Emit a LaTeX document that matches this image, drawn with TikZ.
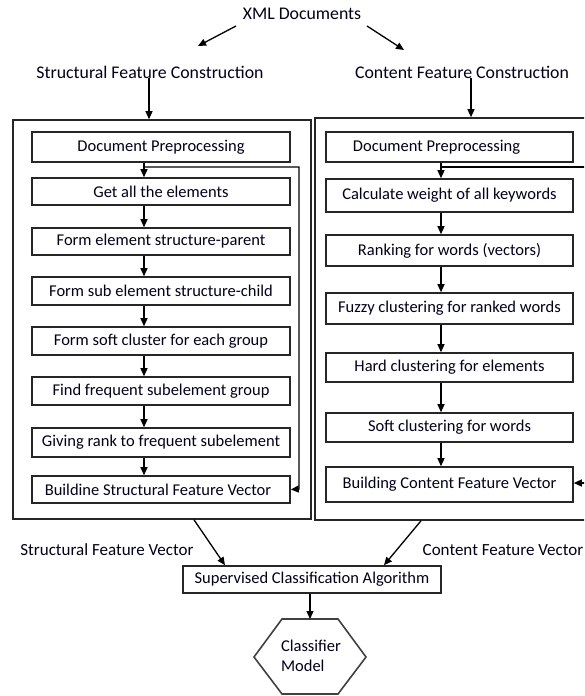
\documentclass[tikz,border=0pt]{standalone}
\usepackage{fontspec}
\setmainfont{Carlito}
\usetikzlibrary{arrows.meta}
\begin{document}
\begin{tikzpicture}[x=1pt,y=-1pt,
  txt/.style={font=\fontsize{16.5}{19}\selectfont, text=black!90!blue},
  bigtxt/.style={font=\fontsize{17.8}{20}\selectfont, text=black!90!blue},
  midtxt/.style={font=\fontsize{17}{20}\selectfont, text=black!90!blue},
  lbox/.style={draw=black!85, line width=1.6pt, inner sep=0pt, minimum width=258pt, txt},
  rbox/.style={draw=black!85, line width=1.6pt, inner sep=0pt, minimum width=247pt, txt},
  outer/.style={draw=black!85, line width=1.6pt, inner sep=0pt},
  lbl/.style={inner sep=0pt},
  arr/.style={-{Triangle[length=8pt,width=7pt]}, line width=1.3pt}]
\useasboundingbox (0,0) rectangle (584,696);
\clip (0,0) rectangle (584,696);

% top labels
\node[lbl, bigtxt] (xml) at (302,14) {XML Documents};
\node[lbl, bigtxt] (sfc) at (150,72) {Structural Feature Construction};
\node[lbl, bigtxt] (cfc) at (462,72) {Content Feature Construction};
\coordinate (xa) at (236,26); \coordinate (xb) at (198,46);
\coordinate (xc) at (367,26); \coordinate (xd) at (404,50);
\draw[arr] (xa) -- (xb);
\draw[arr] (xc) -- (xd);

% outer boxes
\node[outer, minimum width=298pt, minimum height=399pt] (lout) at (162,319.5) {};
\node[outer, minimum width=275pt, minimum height=402pt] (rout) at (452.5,319) {};
\draw[arr] (sfc.south -| 149,0) -- (lout.north -| 149,0);
\draw[arr] (cfc.south -| 471,0) -- (rout.north -| 471,0);

% left column
\node[lbox, minimum height=30pt] (l0) at (161,147) {Document Preprocessing};
\node[lbox, minimum height=27pt] (l1) at (161,191.5) {Get all the elements};
\node[lbox, minimum height=27pt] (l2) at (161,241.5) {Form element structure-parent};
\node[lbox, minimum height=28pt] (l3) at (161,291) {Form sub element structure-child};
\node[lbox, minimum height=28pt] (l4) at (161,341) {Form soft cluster for each group};
\node[lbox, minimum height=28pt] (l5) at (161,391) {Find frequent subelement group};
\node[lbox, minimum height=29pt] (l6) at (161,442.5) {Giving rank to frequent subelement};
\node[lbox, minimum height=27pt] (l7) at (161,489.5) {\hspace*{-6pt}Buildine Structural Feature Vector};
\foreach \a/\b in {l0/l1,l1/l2,l2/l3,l3/l4,l4/l5,l5/l6,l6/l7}
  \draw[arr] (\a.south -| 144,0) -- (\b.north -| 144,0);
\coordinate (lf) at (144,167);
\draw[arr] (lf) -| (299,489) -- (l7.east);

% right column
\node[rbox, minimum height=30pt] (r0) at (449.5,147) {\hspace*{-26pt}Document Preprocessing};
\node[rbox, minimum height=33pt] (r1) at (449.5,195.5) {Calculate weight of all keywords};
\node[rbox, minimum height=31pt] (r2) at (449.5,250.5) {Ranking for words (vectors)};
\node[rbox, minimum height=31pt] (r3) at (449.5,308.5) {Fuzzy clustering for ranked words};
\node[rbox, minimum height=29pt] (r4) at (449.5,367.5) {Hard clustering for elements};
\node[rbox, minimum height=29pt] (r5) at (449.5,427.5) {Soft clustering for words};
\node[rbox, minimum height=35pt] (r6) at (449.5,484.5) {Building Content Feature Vector};
\foreach \a/\b in {r0/r1,r1/r2,r2/r3,r3/r4,r4/r5,r5/r6}
  \draw[arr] (\a.south -| 441,0) -- (\b.north -| 441,0);
\coordinate (rf) at (441,167);
\draw[arr] (rf) -| (592,483) -- (r6.east |- 0,483);

% bottom
\node[lbl, midtxt] (sfv) at (107,550) {Structural Feature Vector};
\node[lbl, midtxt] (cfv) at (503,550) {Content Feature Vector};
\node[lbox, minimum height=27pt] (sca) at (312,579.5) {Supervised Classification Algorithm};
\draw[arr] (lout.south -| 194,0) -- (sca.north -| 225,0);
\draw[arr] (rout.south -| 421,0) -- (sca.north -| 384,0);

\node[lbl, txt, align=left] (cm) at (311,656) {Classifier\\[1pt]Model};
\draw[draw=black!75, line width=1.6pt] (254,657) -- (282,619) -- (338,619) -- (366,657) -- (338,694) -- (282,694) -- cycle;
\coordinate (hxt) at (310,619);
\draw[arr] (sca.south -| 310,0) -- (hxt);
\end{tikzpicture}
\end{document}
